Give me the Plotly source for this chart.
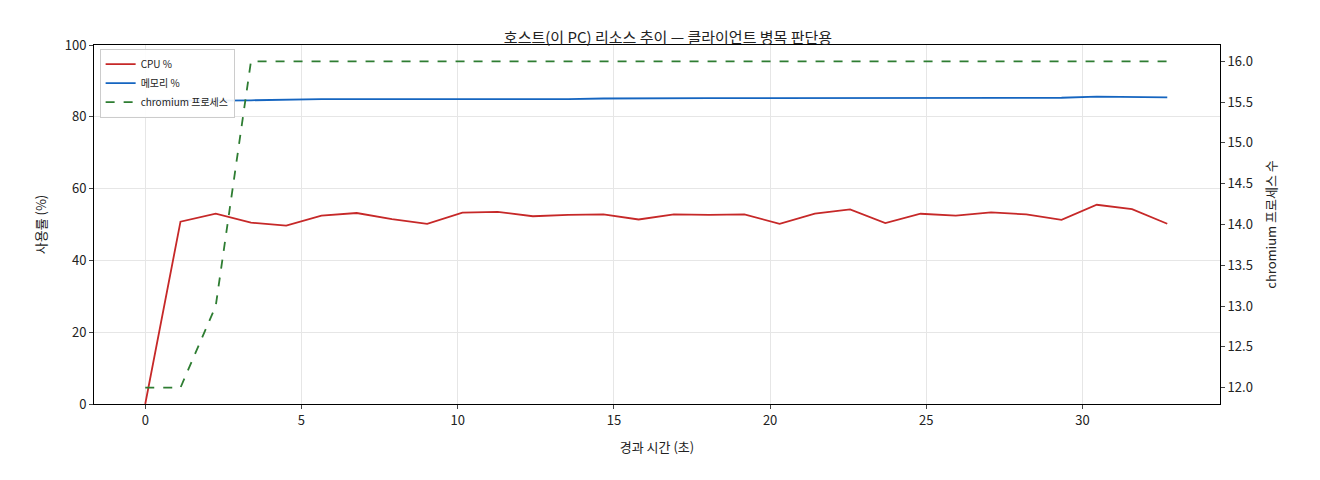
import plotly.graph_objects as go

t = [round(i*1.128, 3) for i in range(30)]
cpu = [0, 50.8, 53.0, 50.5, 49.7, 52.5, 53.2, 51.5, 50.2, 53.3, 53.5, 52.3, 52.7, 52.8, 51.4,
       52.8, 52.7, 52.8, 50.2, 53.0, 54.2, 50.4, 53.0, 52.5, 53.4, 52.8, 51.3, 55.5, 54.3, 50.2]
mem = [84.6, 84.5, 84.5, 84.6, 84.8, 84.9, 84.9, 84.9, 84.8, 84.9, 84.8, 85.0, 84.9, 85.1, 85.2,
       85.3, 85.2, 85.2, 85.2, 85.2, 85.3, 85.2, 85.3, 85.2, 85.2, 85.3, 85.3, 85.6, 85.4, 85.4]
proc = [12, 12, 13, 16, 16, 16, 16, 16, 16, 16, 16, 16, 16, 16, 16,
        16, 16, 16, 16, 16, 16, 16, 16, 16, 16, 16, 16, 16, 16, 16]

F = "Noto Sans CJK KR"
fig = go.Figure()
fig.add_trace(go.Scatter(x=t, y=cpu, name="CPU %", mode="lines", line=dict(color="#c62828", width=1.8)))
fig.add_trace(go.Scatter(x=t, y=mem, name="메모리 %", mode="lines", line=dict(color="#1565c0", width=1.8)))
fig.add_trace(go.Scatter(x=t, y=proc, name="chromium 프로세스", mode="lines", yaxis="y2",
                         line=dict(color="#2e7d32", width=1.8, dash="dash")))
ax = dict(showline=True, linecolor="black", mirror=True, ticks="outside", ticklen=4,
          tickfont=dict(size=13, color="#222"), zeroline=False)
fig.update_layout(
    width=1320, height=480, plot_bgcolor="white", paper_bgcolor="white",
    font=dict(family=F, color="#222"),
    margin=dict(l=86, r=108, t=37, b=84),
    title=dict(text="호스트(이 PC) 리소스 추이 — 클라이언트 병목 판단용", x=0.5, y=0.95, xanchor="center",
               font=dict(size=15)),
    xaxis=dict(**ax, range=[-1.64, 34.4], dtick=5, showgrid=True, gridcolor="#e6e6e6",
               title=dict(text="경과 시간 (초)", font=dict(size=13))),
    yaxis=dict(**ax, range=[0, 100], dtick=20, showgrid=True, gridcolor="#e6e6e6",
               title=dict(text="사용률 (%)", font=dict(size=13))),
    yaxis2=dict(showline=True, linecolor="black", ticks="outside", ticklen=4, tickfont=dict(size=13, color="#222"),
                overlaying="y", side="right", range=[11.8, 16.2], dtick=0.5, tickformat=".1f",
                showgrid=False, zeroline=False,
                title=dict(text="chromium 프로세스 수", font=dict(size=13))),
    legend=dict(x=0.005, y=0.99, xanchor="left", yanchor="top", bgcolor="rgba(255,255,255,0.9)",
                bordercolor="#ccc", borderwidth=1, font=dict(size=10), tracegroupgap=0),
    showlegend=True,
)
fig.write_html("out.html")
